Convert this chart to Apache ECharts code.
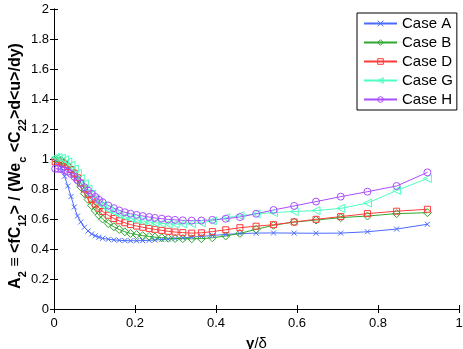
<!DOCTYPE html>
<html>
<head>
<meta charset="utf-8">
<script src="https://cdn.jsdelivr.net/npm/echarts@6/dist/echarts.min.js"></script>
<style>
  html, body { margin: 0; padding: 0; background: #fff; }
</style>
</head>
<body>

<div id="main" style="width: 463px;height:349px;"></div>

<script type="text/javascript">
    // y/delta positions (stretched grid, same for all cases)
    var yPos = [0.003, 0.010, 0.018, 0.026, 0.034, 0.042, 0.050, 0.058, 0.066, 0.075,
        0.084, 0.093, 0.102, 0.111, 0.120, 0.134, 0.148, 0.161, 0.175, 0.189,
        0.204, 0.219, 0.235, 0.249, 0.266, 0.282, 0.299, 0.318, 0.340, 0.364,
        0.391, 0.424, 0.459, 0.499, 0.542, 0.593, 0.647, 0.708, 0.774, 0.846, 0.922];

    var caseA = [0.995, 0.98, 0.94, 0.885, 0.82, 0.75, 0.68, 0.62, 0.58, 0.545,
        0.52, 0.50, 0.488, 0.478, 0.471, 0.465, 0.461, 0.458, 0.456, 0.455,
        0.455, 0.456, 0.458, 0.460, 0.463, 0.466, 0.470, 0.474, 0.479, 0.484,
        0.490, 0.497, 0.503, 0.506, 0.507, 0.506, 0.505, 0.506, 0.515, 0.533, 0.565];

    var caseB = [1.00, 1.00, 0.99, 0.975, 0.955, 0.93, 0.895, 0.855, 0.815, 0.77,
        0.73, 0.69, 0.655, 0.625, 0.60, 0.57, 0.548, 0.53, 0.515, 0.504,
        0.496, 0.489, 0.484, 0.479, 0.475, 0.472, 0.470, 0.469, 0.468, 0.469,
        0.475, 0.487, 0.504, 0.531, 0.558, 0.58, 0.593, 0.609, 0.62, 0.636, 0.642];

    var caseD = [0.98, 0.98, 0.975, 0.965, 0.95, 0.93, 0.905, 0.875, 0.84, 0.80,
        0.765, 0.73, 0.70, 0.672, 0.65, 0.625, 0.603, 0.588, 0.575, 0.563,
        0.553, 0.545, 0.537, 0.531, 0.524, 0.518, 0.513, 0.509, 0.506, 0.508,
        0.516, 0.528, 0.542, 0.552, 0.562, 0.58, 0.598, 0.616, 0.636, 0.652, 0.665];

    var caseG = [1.01, 1.01, 1.005, 0.995, 0.98, 0.96, 0.935, 0.905, 0.87, 0.835,
        0.80, 0.767, 0.735, 0.71, 0.69, 0.665, 0.645, 0.628, 0.615, 0.604,
        0.595, 0.587, 0.58, 0.575, 0.571, 0.568, 0.566, 0.567, 0.569, 0.575,
        0.588, 0.608, 0.622, 0.634, 0.643, 0.65, 0.656, 0.671, 0.706, 0.79, 0.87];

    var caseH = [0.935, 0.935, 0.932, 0.925, 0.915, 0.90, 0.882, 0.86, 0.837, 0.812,
        0.79, 0.768, 0.747, 0.728, 0.712, 0.69, 0.672, 0.657, 0.645, 0.635,
        0.627, 0.62, 0.613, 0.607, 0.602, 0.597, 0.594, 0.591, 0.589, 0.59,
        0.594, 0.602, 0.613, 0.635, 0.66, 0.687, 0.716, 0.749, 0.782, 0.82, 0.911];

    var caseNames = ['Case A', 'Case B', 'Case D', 'Case G', 'Case H'];
    var caseData = [caseA, caseB, caseD, caseG, caseH];
    var caseColors = ['#4a6bff', '#2ea82e', '#ff3a3a', '#4dffc0', '#a94dff'];
    var caseSymbols = [
        'path://M0,0L10,10M10,0L0,10',
        'diamond',
        'rect',
        'path://M0,5L10,0L10,10Z',
        'circle'
    ];
    var caseSizes = [5, 8, 6, 8, 7];

    var font = 'Liberation Sans, Arial, Helvetica, sans-serif';

    function pairs(ys) {
        var out = [];
        for (var i = 0; i < yPos.length; i++) {
            out.push([yPos[i], ys[i]]);
        }
        return out;
    }

    var series = [];
    var legendData = [];
    for (var k = 0; k < caseNames.length; k++) {
        series.push({
            name: caseNames[k],
            type: 'line',
            data: pairs(caseData[k]),
            symbol: caseSymbols[k],
            symbolSize: caseSizes[k],
            showAllSymbol: true,
            clip: false,
            lineStyle: {color: caseColors[k], width: 1},
            itemStyle: {color: 'rgba(255,255,255,0)', borderColor: caseColors[k], borderWidth: 1},
            emphasis: {disabled: true},
            animation: false
        });
        legendData.push({
            name: caseNames[k],
            itemStyle: {color: 'rgba(255,255,255,0)', borderColor: caseColors[k], borderWidth: 1}
        });
    }

    var myChart = echarts.init(document.getElementById('main'));

    var option = {
        animation: false,
        grid: {left: 54, right: 4, top: 9, bottom: 40, outerBoundsMode: 'none', containLabel: false},
        legend: {
            orient: 'vertical',
            left: 357,
            top: 13,
            padding: [3, 4, 3, 6],
            backgroundColor: '#fff',
            borderColor: '#000',
            borderWidth: 1,
            itemWidth: 33,
            itemHeight: 7,
            itemGap: 4,
            textStyle: {color: '#000', fontFamily: font, fontSize: 15, lineHeight: 15},
            data: legendData
        },
        xAxis: [
            {
                type: 'value',
                min: 0,
                max: 1,
                interval: 0.2,
                name: '{b|y}/δ',
                nameLocation: 'middle',
                nameGap: 27,
                nameMoveOverlap: false,
                nameTextStyle: {
                    color: '#000', fontFamily: font, fontSize: 15,
                    rich: {b: {fontWeight: 'bold', fontFamily: font, fontSize: 15, color: '#000'}}
                },
                axisLine: {lineStyle: {color: '#000', width: 1}},
                axisTick: {inside: true, length: 4, lineStyle: {color: '#000'}},
                axisLabel: {color: '#000', fontFamily: font, fontSize: 13, margin: 8},
                splitLine: {show: false}
            },
            {
                type: 'value',
                position: 'top',
                min: 0,
                max: 1,
                interval: 0.2,
                axisLine: {lineStyle: {color: '#000', width: 1}},
                axisTick: {inside: true, length: 4, lineStyle: {color: '#000'}},
                axisLabel: {show: false},
                splitLine: {show: false}
            }
        ],
        yAxis: [
            {
                type: 'value',
                min: 0,
                max: 2,
                interval: 0.2,
                name: 'A{s|2} ≡ <fC{s|12}> / (We{s|c} <C{s|22}>d<u>/dy)',
                nameLocation: 'middle',
                nameGap: 26,
                nameMoveOverlap: false,
                nameTextStyle: {
                    color: '#000', fontFamily: font, fontSize: 16, fontWeight: 'bold',
                    padding: [0, 14, 0, 0],
                    rich: {
                        s: {fontSize: 11, fontWeight: 'bold', fontFamily: font, color: '#000',
                            verticalAlign: 'bottom', lineHeight: 24}
                    }
                },
                axisLine: {lineStyle: {color: '#000', width: 1}},
                axisTick: {inside: true, length: 4, lineStyle: {color: '#000'}},
                axisLabel: {color: '#000', fontFamily: font, fontSize: 13, margin: 5},
                splitLine: {show: false}
            },
            {
                type: 'value',
                position: 'right',
                min: 0,
                max: 2,
                interval: 0.2,
                axisLine: {lineStyle: {color: '#000', width: 1}},
                axisTick: {inside: true, length: 4, lineStyle: {color: '#000'}},
                axisLabel: {show: false},
                splitLine: {show: false}
            }
        ],
        series: series
    };

    myChart.setOption(option);
</script>
</body>
</html>
